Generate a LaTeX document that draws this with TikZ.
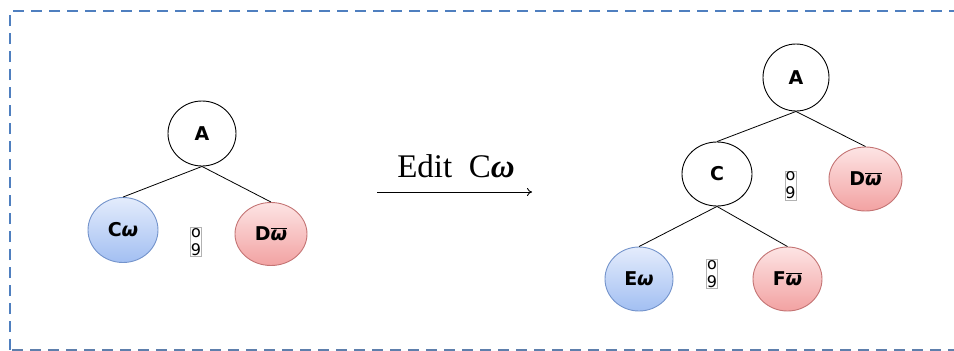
\documentclass[tikz,border=0pt]{standalone}
\usepackage{amsmath}
\usepackage{fontspec}
\setmainfont{Liberation Serif}
\newfontfamily\nodefont{DejaVu Sans}
\usetikzlibrary{shapes.geometric,arrows.meta}
\definecolor{frameblue}{HTML}{4F7FBF}
\definecolor{bluetop}{HTML}{E4ECFC}
\definecolor{bluebot}{HTML}{A2BFF2}
\definecolor{blueline}{HTML}{7393CB}
\definecolor{redtop}{HTML}{FDE4E4}
\definecolor{redbot}{HTML}{F2A2A2}
\definecolor{redline}{HTML}{C47474}
\newcommand{\wbar}{$\overline{\text{\itshape ω}}$}

\begin{document}
\begin{tikzpicture}[x=1pt, y=-1pt,
    tnode/.style={ellipse, draw=black, line width=0.9pt, inner sep=0pt,
        minimum width=68pt, minimum height=65pt,
        font=\nodefont\bfseries\fontsize{19}{20}\selectfont},
    wnode/.style={tnode, draw=blueline, top color=bluetop, bottom color=bluebot},
    wbnode/.style={tnode, draw=redline, top color=redtop, bottom color=redbot},
    glyphbox/.style={draw=black!30, line width=0.6pt, inner xsep=0.5pt, inner ysep=1pt,
        align=center, font=\nodefont\fontsize{16}{18}\selectfont},
    edge/.style={line width=0.8pt}]
    \useasboundingbox (0,0) rectangle (954,351);
    % dashed frame
    \begin{scope}
        \clip (0,0) rectangle (954,351);
        \draw[frameblue, line width=2.8pt, dash pattern=on 11pt off 7pt] (10,350) -- (10,11) -- (970,11);
        \draw[frameblue!70!gray, line width=1.6pt, dash pattern=on 11pt off 7pt] (12,350) -- (970,350);
    \end{scope}
    % Left tree
    \node[tnode] (lA) at (202,133.5) {A};
    \node[wnode, minimum width=70pt] (lC) at (123,230) {C{\itshape ω}};
    \node[wbnode, minimum width=72pt, minimum height=63pt] (lD) at (271,234) {D\wbar};
    \draw[edge] (lA.south) -- (lC.north);
    \draw[edge] (lA.south) -- (lD.north);
    \node[glyphbox] (lG) at (196,242) {o\\9};
    % Edit arrow
    \coordinate (arrS) at (377,192);
    \coordinate (arrE) at (532,192);
    \draw[line width=0.9pt, -{To[length=5pt, width=8pt]}] (arrS) -- (arrE);
    \node[anchor=base, font=\fontsize{33}{34}\selectfont] (edit) at (456,177) {Edit\ \ C\textbf{\textit{ω}}};
    % Right tree
    \node[tnode, minimum width=66pt, minimum height=67pt] (rA) at (796,77.5) {A};
    \node[tnode, minimum width=70pt, minimum height=64pt] (rC) at (717,174) {C};
    \node[wbnode, minimum width=73pt, minimum height=64pt] (rD) at (865.5,179) {D\wbar};
    \node[wnode, minimum height=64pt] (rE) at (639,279) {E{\itshape ω}};
    \node[wbnode, minimum width=69pt, minimum height=64pt] (rF) at (787.5,279) {F\wbar};
    \draw[edge] (rA.south) -- (rC.north);
    \draw[edge] (rA.south) -- (rD.north);
    \draw[edge] (rC.south) -- (rE.north);
    \draw[edge] (rC.south) -- (rF.north);
    \node[glyphbox] (rG1) at (790.5,185.5) {o\\9};
    \node[glyphbox] (rG2) at (712,274) {o\\9};
\end{tikzpicture}
\end{document}
